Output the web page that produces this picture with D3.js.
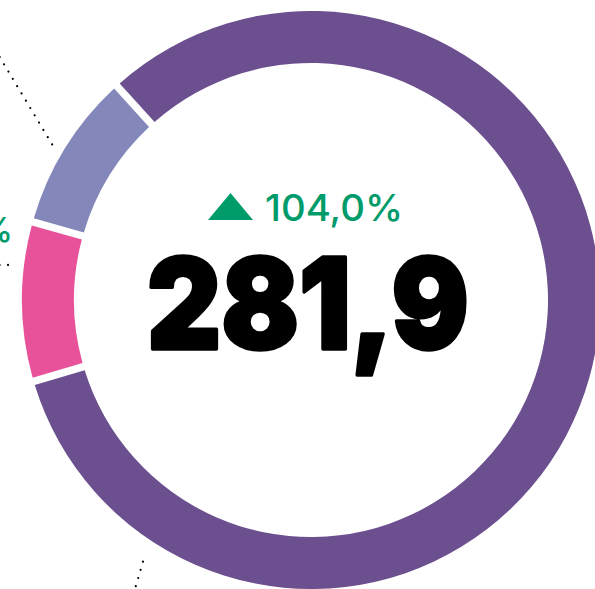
<!DOCTYPE html>
<html>
<head>
<meta charset="utf-8">
<script src="https://cdn.jsdelivr.net/npm/d3@7"></script>
<style>
  html, body { margin: 0; padding: 0; background: #fff; }
  svg { display: block; }
</style>
</head>
<body>
<div id="graph"></div>
<script>
// data
var categories = ["Categoria A", "Categoria B", "Categoria C"];
var values = [233.4, 24.2, 24.3];
var colors = ["#6b4f8f", "#e8529a", "#8387ba"];
var totalLabel = "281,9";
var changeLabel = "104,0%";
var sideLabels = ["8,6%"];

// leader lines (angle in degrees from 12 o'clock, clockwise)
var leaders = [
  { a0: 301, r0: 302, a1: 312.2, r1: 490 },
  { a0: 276.6, r0: 305, a1: 270, r1: 340, horiz: true },
  { a0: 212.7, r0: 311, a1: 209, r1: 400 }
];

var width = 595, height = 589;
var cx = 311, cy = 300;
var outerR = 289, innerR = 237;
var gap = 7.5;

var svg = d3.select("#graph")
  .append("svg")
  .attr("width", width)
  .attr("height", height);

var g = svg.append("g")
  .attr("transform", "translate(" + cx + "," + cy + ")");

var pie = d3.pie()
  .sort(null)
  .value(function(d) { return d; })
  .startAngle(-42.2 * Math.PI / 180)
  .endAngle(-42.2 * Math.PI / 180 + 2 * Math.PI)
  .padAngle(gap / outerR);

var arc = d3.arc()
  .innerRadius(innerR)
  .outerRadius(outerR)
  .padRadius(outerR);

g.selectAll("path.slice")
  .data(pie(values))
  .enter()
  .append("path")
  .attr("class", "slice")
  .attr("d", arc)
  .attr("fill", function(d, i) { return colors[i]; });

// dotted leaders
function pt(a, r) {
  var t = a * Math.PI / 180;
  return [Math.sin(t) * r, -Math.cos(t) * r];
}
leaders.forEach(function(l) {
  var p0 = pt(l.a0, l.r0);
  var p1 = pt(l.a1, l.r1);
  if (l.horiz) p1 = [p0[0] - 60, p0[1]];
  g.append("line")
    .attr("x1", p0[0]).attr("y1", p0[1])
    .attr("x2", p1[0]).attr("y2", p1[1])
    .attr("stroke", "#000")
    .attr("stroke-width", 2.2)
    .attr("stroke-linecap", "round")
    .attr("stroke-dasharray", "0 8.5");
});

// side label (cropped by the frame, as in the original)
var lp = pt(leaders[1].a0, leaders[1].r0);
g.append("text")
  .attr("x", lp[0] + 5)
  .attr("y", lp[1] - 23)
  .attr("text-anchor", "end")
  .style("font-family", "Inter, 'Noto Sans', sans-serif")
  .style("font-weight", 500)
  .style("font-size", "34px")
  .attr("fill", "#009b6b")
  .text(sideLabels[0]);

// change indicator
var triW = 45, triH = 27;
g.append("path")
  .attr("d", "M" + (-103) + "," + (-80) + "h" + triW + "l" + (-triW / 2) + "," + (-triH) + "z")
  .attr("fill", "#009b6b");

g.append("text")
  .attr("x", -46)
  .attr("y", -79)
  .attr("textLength", 138)
  .attr("lengthAdjust", "spacingAndGlyphs")
  .style("font-family", "Inter, 'Noto Sans', sans-serif")
  .style("font-weight", 500)
  .style("font-size", "37px")
  .attr("fill", "#009b6b")
  .text(changeLabel);

// total
g.append("text")
  .attr("x", -164)
  .attr("y", 49)
  .attr("textLength", 322)
  .attr("lengthAdjust", "spacingAndGlyphs")
  .style("font-family", "Inter, 'Noto Sans', sans-serif")
  .style("font-weight", 900)
  .style("font-size", "126px")
  .attr("fill", "#000")
  .attr("stroke", "#000")
  .attr("stroke-width", 3.5)
  .attr("stroke-linejoin", "round")
  .text(totalLabel);
</script>
</body>
</html>
